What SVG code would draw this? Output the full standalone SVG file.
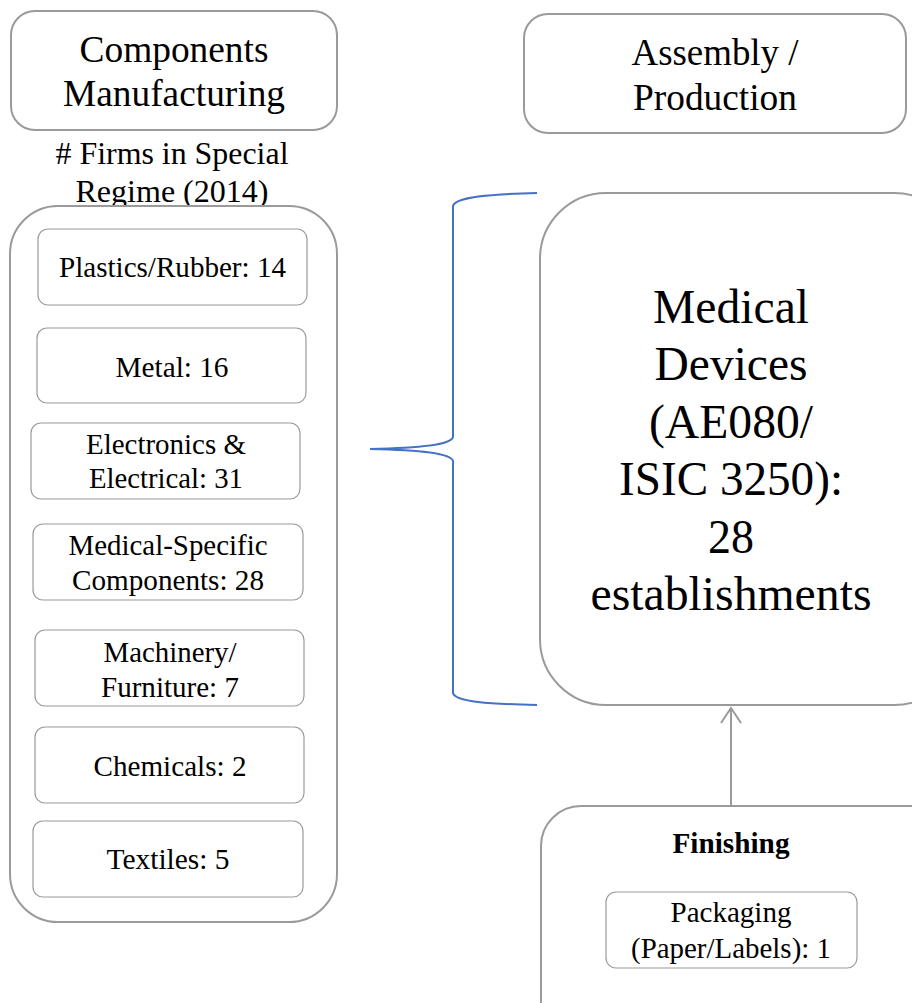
<svg xmlns="http://www.w3.org/2000/svg" width="912" height="1003" viewBox="0 0 912 1003">
  <style>
    text { font-family: 'Liberation Serif', 'Tinos', 'Times New Roman', 'DejaVu Serif', 'Noto Serif', serif; fill: #000; text-anchor: middle; }
    .box { fill: #fff; stroke: #9a9a9a; stroke-width: 1.2; }
    .big { fill: #fff; stroke: #9a9a9a; stroke-width: 2; }
    .t37 { font-size: 37px; }
    .t32 { font-size: 32px; }
    .t29 { font-size: 29px; }
    .t48 { font-size: 48px; }
    .bold { font-weight: bold; font-size: 29px; }
  </style>

  <rect width="912" height="1003" fill="#fff"/>

  <g id="components-header">
    <rect class="big" x="11" y="11" width="326" height="119" rx="24"/>
    <text class="t37" x="174" y="62" textLength="189" lengthAdjust="spacingAndGlyphs">Components</text>
    <text class="t37" x="174" y="106" textLength="222" lengthAdjust="spacingAndGlyphs">Manufacturing</text>
  </g>

  <g id="assembly-header">
    <rect class="big" x="524" y="14" width="382" height="119" rx="24"/>
    <text class="t37" x="715" y="65" textLength="167" lengthAdjust="spacingAndGlyphs">Assembly /</text>
    <text class="t37" x="715" y="110" textLength="164" lengthAdjust="spacingAndGlyphs">Production</text>
  </g>

  <g id="firms-caption">
    <text class="t32" x="172" y="164" textLength="233" lengthAdjust="spacingAndGlyphs"># Firms in Special</text>
    <text class="t32" x="172" y="202" textLength="193" lengthAdjust="spacingAndGlyphs">Regime (2014)</text>
  </g>

  <g id="components-group">
    <rect class="big" x="10" y="206" width="327" height="716" rx="48"/>
  </g>

  <g id="plastics">
    <rect class="box" x="38" y="229" width="269" height="76" rx="10"/>
    <text class="t29" x="172.5" y="277" textLength="227" lengthAdjust="spacingAndGlyphs">Plastics/Rubber: 14</text>
  </g>
  <g id="metal">
    <rect class="box" x="37" y="328" width="269" height="75" rx="10"/>
    <text class="t29" x="172" y="377" textLength="113" lengthAdjust="spacingAndGlyphs">Metal: 16</text>
  </g>
  <g id="electronics">
    <rect class="box" x="31" y="423" width="269" height="76" rx="10"/>
    <text class="t29" x="166" y="454" textLength="160" lengthAdjust="spacingAndGlyphs">Electronics &amp;</text>
    <text class="t29" x="166" y="488" textLength="154" lengthAdjust="spacingAndGlyphs">Electrical: 31</text>
  </g>
  <g id="medical-specific">
    <rect class="box" x="33" y="524" width="270" height="76" rx="10"/>
    <text class="t29" x="168" y="555" textLength="199" lengthAdjust="spacingAndGlyphs">Medical-Specific</text>
    <text class="t29" x="168" y="590" textLength="192" lengthAdjust="spacingAndGlyphs">Components: 28</text>
  </g>
  <g id="machinery">
    <rect class="box" x="35" y="630" width="269" height="76" rx="10"/>
    <text class="t29" x="170" y="662" textLength="133" lengthAdjust="spacingAndGlyphs">Machinery/</text>
    <text class="t29" x="170" y="697" textLength="138" lengthAdjust="spacingAndGlyphs">Furniture: 7</text>
  </g>
  <g id="chemicals">
    <rect class="box" x="35" y="727" width="269" height="76" rx="10"/>
    <text class="t29" x="170" y="776" textLength="153" lengthAdjust="spacingAndGlyphs">Chemicals: 2</text>
  </g>
  <g id="textiles">
    <rect class="box" x="33" y="821" width="270" height="76" rx="10"/>
    <text class="t29" x="168" y="869" textLength="123" lengthAdjust="spacingAndGlyphs">Textiles: 5</text>
  </g>

  <g id="medical-devices">
    <rect class="big" x="540" y="193" width="420" height="512" rx="66"/>
    <text class="t48" x="731" y="323" textLength="156" lengthAdjust="spacingAndGlyphs">Medical</text>
    <text class="t48" x="731" y="380" textLength="153" lengthAdjust="spacingAndGlyphs">Devices</text>
    <text class="t48" x="731" y="438" textLength="164" lengthAdjust="spacingAndGlyphs">(AE080/</text>
    <text class="t48" x="731" y="495" textLength="224" lengthAdjust="spacingAndGlyphs">ISIC 3250):</text>
    <text class="t48" x="731" y="553" textLength="46" lengthAdjust="spacingAndGlyphs">28</text>
    <text class="t48" x="731" y="610" textLength="281" lengthAdjust="spacingAndGlyphs">establishments</text>
  </g>

  <g id="finishing">
    <rect class="big" x="541" y="806" width="420" height="260" rx="40"/>
    <text class="bold" x="731" y="853" textLength="117" lengthAdjust="spacingAndGlyphs">Finishing</text>
  </g>
  <g id="packaging">
    <rect class="box" x="606" y="892" width="251" height="76" rx="10"/>
    <text class="t29" x="731" y="922" textLength="121" lengthAdjust="spacingAndGlyphs">Packaging</text>
    <text class="t29" x="731" y="958" textLength="200" lengthAdjust="spacingAndGlyphs">(Paper/Labels): 1</text>
  </g>

  <g id="connectors" fill="none">
    <!-- brace gathering the component categories -->
    <path d="M537,193 C490,194 455,197 453,206 L453,437 C451,445 420,448 370,449 C420,450 451,453 453,461 L453,693 C455,702 490,704 537,705" stroke="#4472C4" stroke-width="2"/>
    <!-- finishing feeds into assembly -->
    <line x1="731" y1="806" x2="731" y2="708" stroke="#9a9a9a" stroke-width="2"/>
    <polyline points="721,723 731,708 741,723" stroke="#9a9a9a" stroke-width="2"/>
  </g>
</svg>
